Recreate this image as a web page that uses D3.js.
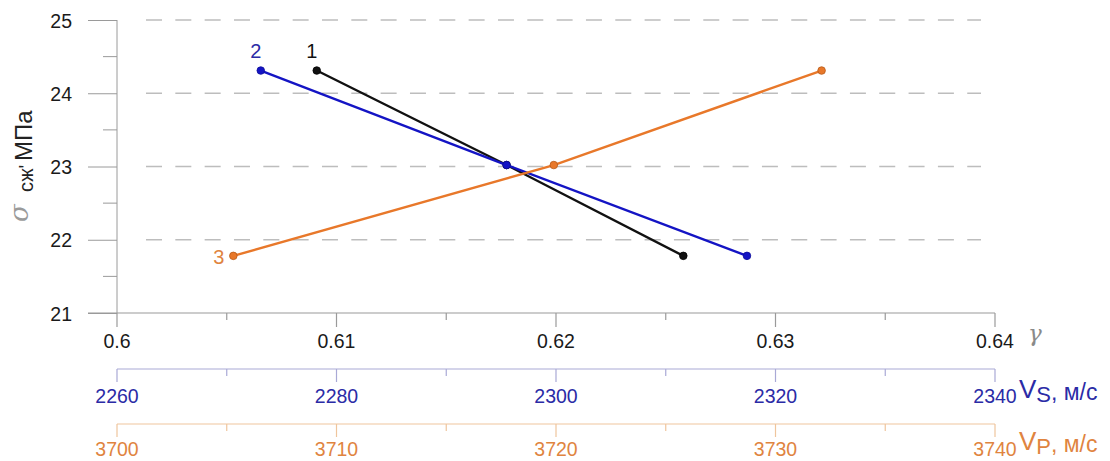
<!DOCTYPE html>
<html>
<head>
<meta charset="utf-8">
<script src="https://cdn.jsdelivr.net/npm/d3@7"></script>
<style>
  html, body { margin: 0; padding: 0; background: #fff; }
  svg { display: block; }
  text { font-family: "Liberation Sans", Arial, sans-serif; }
</style>
</head>
<body>
<svg id="chart" width="1110" height="461"></svg>
<script>
// Compressive strength vs. Poisson ratio (gamma), shear (Vs) and compressional (Vp) velocities
const sigmaTicks = [21, 22, 23, 24, 25];
const gammaTicks = [0.6, 0.61, 0.62, 0.63, 0.64];
const vsTicks = [2260, 2280, 2300, 2320, 2340];
const vpTicks = [3700, 3710, 3720, 3730, 3740];

// series 1: sigma vs gamma
const gammaValues = [0.6091, 0.61775, 0.6258];
const sigma1 = [24.31, 23.02, 21.78];
// series 2: sigma vs Vs
const vsValues = [2273.1, 2295.5, 2317.4];
const sigma2 = [24.31, 23.02, 21.78];
// series 3: sigma vs Vp
const vpValues = [3705.3, 3719.9, 3732.1];
const sigma3 = [21.78, 23.02, 24.31];

const seriesLabels = ["1", "2", "3"];

const svg = d3.select("#chart");

const x0 = 117, x1 = 995;
const y = d3.scaleLinear().domain([21, 25]).range([313, 20]);
const xg = d3.scaleLinear().domain([0.6, 0.64]).range([x0, x1]);
const xs = d3.scaleLinear().domain([2260, 2340]).range([x0, x1]);
const xp = d3.scaleLinear().domain([3700, 3740]).range([x0, x1]);

const axisGray = "#9a9a9a";
const blueText = "#2b2ba6", blueAxis = "#a9a9d6";
const orangeText = "#e0843f", orangeAxis = "#efc59d";
const tickFont = 19.5;

// dashed horizontal grid
svg.append("g").selectAll("line")
  .data(sigmaTicks.slice(1))
  .join("line")
  .attr("x1", 146).attr("x2", 981)
  .attr("y1", d => y(d)).attr("y2", d => y(d))
  .attr("stroke", "#bdbdbd").attr("stroke-width", 1.3)
  .attr("stroke-dasharray", "16,13.33");

// y axis
const yAxis = svg.append("g").attr("transform", `translate(${x0},0)`)
  .call(d3.axisLeft(y).tickValues(sigmaTicks).tickSize(29).tickPadding(16).tickFormat(d3.format("d")));
yAxis.select(".domain").remove();
yAxis.selectAll(".tick line").attr("stroke", axisGray);
yAxis.selectAll(".tick text").attr("font-size", tickFont).attr("fill", "#1a1a1a")
  .attr("dy", "0.36em")
  .attr("font-family", "Liberation Sans, Arial, sans-serif");
svg.append("line").attr("x1", x0).attr("x2", x0).attr("y1", y(25)).attr("y2", y(21))
  .attr("stroke", axisGray);
svg.append("g").selectAll("line")
  .data([21.5, 22.5, 23.5, 24.5])
  .join("line")
  .attr("x1", x0 - 14).attr("x2", x0)
  .attr("y1", d => y(d)).attr("y2", d => y(d))
  .attr("stroke", axisGray);

// bottom axes: major ticks with labels plus minor ticks halfway between
function bottomAxis(scale, ticks, yPos, lineColor, textColor, tickLen, labelY, extendLeft) {
  const g = svg.append("g");
  g.append("line").attr("x1", x0 - extendLeft).attr("x2", x1)
    .attr("y1", yPos).attr("y2", yPos).attr("stroke", lineColor).attr("stroke-width", 1.2);
  const minor = ticks.slice(1).map((t, i) => (t + ticks[i]) / 2);
  g.selectAll("line.major").data(ticks).join("line").attr("class", "major")
    .attr("x1", d => scale(d)).attr("x2", d => scale(d))
    .attr("y1", yPos).attr("y2", yPos + tickLen).attr("stroke", lineColor).attr("stroke-width", 1.2);
  g.selectAll("line.minor").data(minor).join("line").attr("class", "minor")
    .attr("x1", d => scale(d)).attr("x2", d => scale(d))
    .attr("y1", yPos).attr("y2", yPos + 7).attr("stroke", lineColor).attr("stroke-width", 1.2);
  g.selectAll("text").data(ticks).join("text")
    .attr("x", d => scale(d)).attr("y", labelY)
    .attr("text-anchor", "middle").attr("font-size", tickFont).attr("fill", textColor)
    .text(d => d);
  return g;
}
bottomAxis(xg, gammaTicks, 313, axisGray, "#1a1a1a", 14, 348, 29);
bottomAxis(xs, vsTicks, 369, blueAxis, blueText, 13, 403, 0);
bottomAxis(xp, vpTicks, 424, orangeAxis, orangeText, 13, 456, 0);

// axis titles
svg.append("text").attr("x", 1028).attr("y", 341)
  .attr("font-style", "italic")
  .attr("font-size", 23).attr("fill", "#8a8a8a").style("font-family", "'DejaVu Serif', serif")
  .text("γ");

function velocityTitle(sub, baseY, color) {
  const t = svg.append("text").attr("x", 1019).attr("y", baseY).attr("fill", color);
  t.append("tspan").attr("font-size", 26).text("V");
  t.append("tspan").attr("font-size", 22).attr("dy", 4).text(sub);
  t.append("tspan").attr("font-size", 23).attr("dy", -2).text(", м/с");
}
velocityTitle("S", 398, blueText);
velocityTitle("P", 450, orangeText);

const yt = svg.append("g").attr("transform", "translate(32,222) rotate(-90)");
yt.append("text").attr("x", 0).attr("y", -4)
  .attr("font-size", 26).attr("font-style", "italic").attr("fill", "#9a9a9a")
  .style("font-family", "'DejaVu Serif', serif").text("σ");
yt.append("text").attr("x", 30).attr("y", 1)
  .attr("font-size", 20).attr("fill", "#222").text("сж'");
yt.append("text").attr("x", 61).attr("y", 0)
  .attr("font-size", 24).attr("fill", "#222").text("МПа");

// series
const series = [
  { xs: gammaValues, ys: sigma1, scale: xg, color: "#111111", stroke: "#000000" },
  { xs: vsValues, ys: sigma2, scale: xs, color: "#1414c4", stroke: "#0c0c9a" },
  { xs: vpValues, ys: sigma3, scale: xp, color: "#e8782a", stroke: "#b85a18" }
];
const line = d3.line();
series.forEach(s => {
  const pts = s.xs.map((v, i) => [s.scale(v), y(s.ys[i])]);
  svg.append("path").attr("d", line(pts)).attr("fill", "none")
    .attr("stroke", s.color).attr("stroke-width", 2.4);
  svg.append("g").selectAll("circle").data(pts).join("circle")
    .attr("cx", d => d[0]).attr("cy", d => d[1]).attr("r", 3.8)
    .attr("fill", s.color).attr("stroke", s.stroke).attr("stroke-width", 0.8);
});

// series numbers next to the first points
svg.append("text").attr("x", xg(gammaValues[0]) - 5).attr("y", y(sigma1[0]) - 13)
  .attr("text-anchor", "middle").attr("font-size", 20).attr("fill", "#111").text(seriesLabels[0]);
svg.append("text").attr("x", xs(vsValues[0]) - 5).attr("y", y(sigma2[0]) - 13)
  .attr("text-anchor", "middle").attr("font-size", 20).attr("fill", blueText).text(seriesLabels[1]);
svg.append("text").attr("x", xp(vpValues[0]) - 9).attr("y", y(sigma3[0]) + 8)
  .attr("text-anchor", "end").attr("font-size", 20).attr("fill", orangeText).text(seriesLabels[2]);
</script>
</body>
</html>
